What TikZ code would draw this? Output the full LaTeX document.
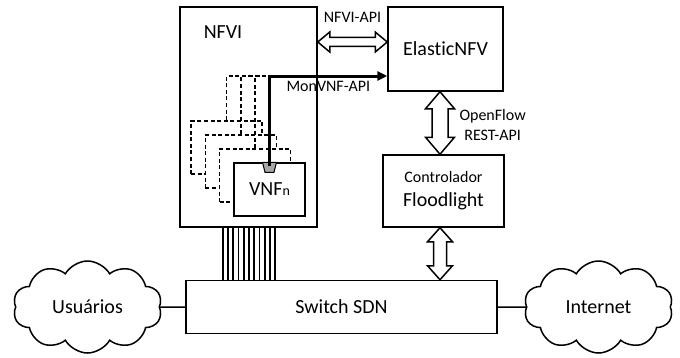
\documentclass[tikz,border=0pt]{standalone}
\usepackage{fontspec}
\setmainfont{Carlito}[Ligatures={NoCommon}]
\usetikzlibrary{arrows.meta, positioning, calc, shapes.symbols}
\definecolor{probegray}{HTML}{A6A6A6}
\tikzset{
  plainbox/.style={draw, line width=1.5pt, fill=white, inner sep=0pt},
  vnfbox/.style={plainbox, minimum width=71pt, minimum height=53pt},
  ghostbox/.style={vnfbox, dashed, dash pattern=on 4pt off 2.6pt},
  dashline/.style={line width=1.5pt, dashed, dash pattern=on 4pt off 2.6pt},
  bigtxt/.style={font=\fontsize{20}{24}\selectfont},
  smalltxt/.style={font=\fontsize{16}{20}\selectfont},
  blockline/.style={draw, line width=1.5pt, fill=white, line join=miter},
  plainline/.style={line width=1.5pt},
  bundle/.style={line width=1.8pt},
  monline/.style={line width=3pt, -{Triangle[length=10pt, width=9pt]}},
  cloudnode/.style={cloud, draw, line width=1.5pt, fill=white, cloud puffs=10,
                    cloud puff arc=120, cloud ignores aspect,
                    minimum width=149pt, minimum height=92pt, bigtxt},
}
% hollow double arrow: #1 -> #2, shaft half width #3, head half width #4, head length #5
\newcommand{\blockarrow}[5]{%
  \draw[blockline] let \p1=($(#2)-(#1)$), \n1={veclen(\x1,\y1)},
      \n2={\x1/\n1}, \n3={\y1/\n1} in
    (#1) -- ($(#1)+({#5*(\n2)-#4*(\n3)},{#5*(\n3)+#4*(\n2)})$)
    -- ($(#1)+({#5*(\n2)-#3*(\n3)},{#5*(\n3)+#3*(\n2)})$)
    -- ($(#2)+({-#5*(\n2)-#3*(\n3)},{-#5*(\n3)+#3*(\n2)})$)
    -- ($(#2)+({-#5*(\n2)-#4*(\n3)},{-#5*(\n3)+#4*(\n2)})$)
    -- (#2)
    -- ($(#2)+({-#5*(\n2)+#4*(\n3)},{-#5*(\n3)-#4*(\n2)})$)
    -- ($(#2)+({-#5*(\n2)+#3*(\n3)},{-#5*(\n3)-#3*(\n2)})$)
    -- ($(#1)+({#5*(\n2)+#3*(\n3)},{#5*(\n3)-#3*(\n2)})$)
    -- ($(#1)+({#5*(\n2)+#4*(\n3)},{#5*(\n3)-#4*(\n2)})$)
    -- cycle;}
\begin{document}
\begin{tikzpicture}[x=1pt, y=1pt]
  \useasboundingbox (0,0) rectangle (680,357);

  % main blocks
  \node[plainbox, minimum width=137pt, minimum height=220pt] (nfvi) at (248.5,240) {};
  \node[bigtxt, anchor=west] (nfvilbl) at ([xshift=21pt, yshift=-26pt]nfvi.north west) {NFVI};
  \node[plainbox, bigtxt, minimum width=115pt, minimum height=84pt] (elastic) at (445.5,308) {ElasticNFV};
  \node[plainbox, bigtxt, minimum width=121pt, minimum height=72pt, align=center]
    (flood) at (443.5,166) {{\fontsize{16}{19}\selectfont Controlador}\\Floodlight};
  \node[plainbox, bigtxt, minimum width=311pt, minimum height=53pt] (switch) at (341.5,50) {Switch SDN};
  \node[cloudnode] (users) at (87.5,50) {Usuários};
  \node[cloudnode] (inet) at (598.5,50) {Internet};

  % VNF instances, back to front
  \node[ghostbox] (ghostA) at (226.6,209.5) {};
  \node[ghostbox] (ghostB) at (240.9,195.5) {};
  \node[ghostbox] (ghostC) at (255.2,181.5) {};
  \node[vnfbox, bigtxt] (vnfn) at (269.5,167.5) {VNF{\fontsize{14}{14}\selectfont n}};

  % monitoring paths
  \coordinate (montop) at ([yshift=-27pt]elastic.west);
  \foreach \g in {ghostA,ghostB,ghostC}
    \draw[dashline] (\g.north) |- (vnfn.north |- montop);
  \draw[line width=1pt, fill=probegray] ([xshift=-7pt]vnfn.north) -- ([xshift=7pt]vnfn.north)
    -- ++(-2.5,-10) -- ++(-9,0) -- cycle;
  \coordinate (probe) at ([yshift=-4pt]vnfn.north);
  \draw[monline] (probe) |- (montop) node[pos=0.75, below, smalltxt] (monlbl) {MonVNF-API};

  % interfaces
  \coordinate (api1) at ([yshift=7pt]elastic.west -| nfvi.east);
  \coordinate (api2) at ([yshift=7pt]elastic.west);
  \blockarrow{api1}{api2}{4.5}{10}{12}
  \node[smalltxt] (apilbl) at ($(api1)!0.5!(api2)+(0,25)$) {NFVI-API};

  \coordinate (ef1) at ([xshift=-5.5pt]elastic.south);
  \coordinate (ef2) at (ef1 |- flood.north);
  \blockarrow{ef1}{ef2}{8}{14.5}{17}
  \node[smalltxt, align=center, anchor=west] (oflbl) at ($(ef1)!0.5!(ef2)+(16,-2)$) {OpenFlow\\REST-API};

  \coordinate (fs1) at (ef1 |- flood.south);
  \coordinate (fs2) at (ef1 |- switch.north);
  \blockarrow{fs1}{fs2}{6.5}{12.5}{14}

  % data plane links
  \foreach \i in {0,...,10}
    \draw[bundle] ([xshift={43.5pt+5.25pt*\i}]nfvi.south west) -- ([xshift={43.5pt+5.25pt*\i}]nfvi.south west |- switch.north);
  \draw[plainline] (users) -- (switch);
  \draw[plainline] (switch) -- (inet);
\end{tikzpicture}
\end{document}
